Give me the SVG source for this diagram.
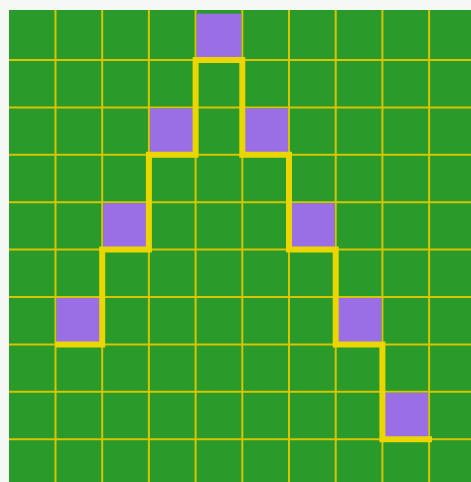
<svg xmlns="http://www.w3.org/2000/svg" width="471" height="482" viewBox="0 0 471 482">
<style>
.grid line{stroke:#d8c400;stroke-width:2}
.sq{fill:#9a6fe6}
.path{fill:none;stroke:#ecd600;stroke-width:6;stroke-linejoin:miter;stroke-linecap:butt}
</style>
<rect width="471" height="482" fill="#f6f8f6"/>
<rect x="9" y="10" width="462" height="472" fill="#2a9a2a"/>
<g class="grid" id="grid">
<line x1="55.5" y1="10" x2="55.5" y2="482"/>
<line x1="102.2" y1="10" x2="102.2" y2="482"/>
<line x1="148.9" y1="10" x2="148.9" y2="482"/>
<line x1="195.6" y1="10" x2="195.6" y2="482"/>
<line x1="242.3" y1="10" x2="242.3" y2="482"/>
<line x1="289" y1="10" x2="289" y2="482"/>
<line x1="335.7" y1="10" x2="335.7" y2="482"/>
<line x1="382.4" y1="10" x2="382.4" y2="482"/>
<line x1="429.1" y1="10" x2="429.1" y2="482"/>
<line x1="9" y1="60" x2="471" y2="60"/>
<line x1="9" y1="107.4" x2="471" y2="107.4"/>
<line x1="9" y1="154.8" x2="471" y2="154.8"/>
<line x1="9" y1="202.2" x2="471" y2="202.2"/>
<line x1="9" y1="249.6" x2="471" y2="249.6"/>
<line x1="9" y1="297" x2="471" y2="297"/>
<line x1="9" y1="344.4" x2="471" y2="344.4"/>
<line x1="9" y1="391.8" x2="471" y2="391.8"/>
<line x1="9" y1="439.2" x2="471" y2="439.2"/>
</g>
<g id="squares">
<rect class="sq" x="196.6" y="13.6" width="44.7" height="45.4"/>
<rect class="sq" x="149.9" y="108.4" width="44.7" height="45.4"/>
<rect class="sq" x="243.3" y="108.4" width="44.7" height="45.4"/>
<rect class="sq" x="103.2" y="203.2" width="44.7" height="45.4"/>
<rect class="sq" x="290" y="203.2" width="44.7" height="45.4"/>
<rect class="sq" x="56.5" y="298" width="44.7" height="45.4"/>
<rect class="sq" x="336.7" y="298" width="44.7" height="45.4"/>
<rect class="sq" x="383.4" y="392.8" width="44.7" height="45.4"/>
</g>
<g id="connectors">
<path class="path" d="M55.5 344.4 H102.2 V249.6 H148.9 V154.8 H195.6 V60 H242.3 V154.8 H289 V249.6 H335.7 V344.4 H382.4 V439.2 H432"/>
</g>
</svg>
